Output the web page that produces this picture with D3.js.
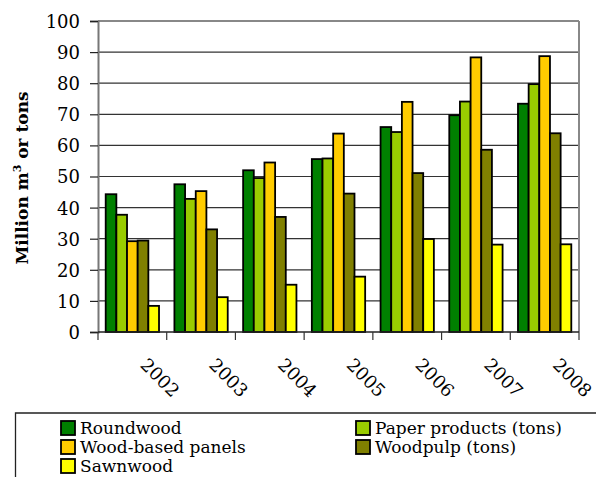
<!DOCTYPE html>
<html><head><meta charset="utf-8">
<script src="https://cdn.jsdelivr.net/npm/d3@7"></script>
<style>body{margin:0;background:#fff}svg{display:block}</style>
</head><body>
<script>
const years = ["2002","2003","2004","2005","2006","2007","2008"];
const seriesNames = ["Roundwood","Paper products (tons)","Wood-based panels","Woodpulp (tons)","Sawnwood"];
const seriesColors = ["#008000","#99CC00","#FFCC00","#808000","#FFFF00"];
const roundwood = [44.3, 47.5, 52.0, 55.6, 65.9, 69.7, 73.4];
const paper     = [37.7, 42.8, 49.5, 55.8, 64.3, 74.1, 79.7];
const panels    = [29.2, 45.3, 54.5, 63.8, 74.0, 88.3, 88.7];
const woodpulp  = [29.4, 33.0, 37.0, 44.5, 51.1, 58.6, 63.9];
const sawnwood  = [8.4, 11.2, 15.2, 17.8, 29.9, 28.1, 28.2];
const yTicks = [0,10,20,30,40,50,60,70,80,90,100];
const values = [roundwood, paper, panels, woodpulp, sawnwood];

const FONT = '"DejaVu Serif", "Liberation Serif", serif';
const W=596,H=477;
const m={left:98,right:579,top:21,bottom:332};
const svg=d3.select("body").append("svg").attr("width",W).attr("height",H).attr("font-family",FONT);

const x=d3.scaleBand().domain(years).range([m.left,m.right]).paddingInner(0).paddingOuter(0);
const x1=d3.scaleBand().domain(d3.range(5)).range([7.7, x.bandwidth()-7.7]);
const y=d3.scaleLinear().domain([0,100]).range([m.bottom,m.top]);

svg.append("g").selectAll("line").data(yTicks.filter(d=>d>0&&d<100)).join("line")
  .attr("x1",m.left).attr("x2",m.right).attr("y1",d=>y(d)).attr("y2",d=>y(d))
  .attr("stroke","#333").attr("stroke-width",1.2);
svg.append("line").attr("x1",m.left).attr("x2",m.right).attr("y1",y(100)).attr("y2",y(100)).attr("stroke","#888").attr("stroke-width",2);
svg.append("line").attr("x1",m.right).attr("x2",m.right).attr("y1",m.top).attr("y2",m.bottom).attr("stroke","#888").attr("stroke-width",2);

const g=svg.append("g");
years.forEach((yr,i)=>{
  g.append("g").attr("transform",`translate(${x(yr)},0)`).selectAll("rect")
   .data(values.map((s,k)=>({k,v:s[i]}))).join("rect")
   .attr("x",d=>x1(d.k)).attr("width",x1.bandwidth())
   .attr("y",d=>y(d.v)).attr("height",d=>y(0)-y(d.v))
   .attr("fill",d=>seriesColors[d.k]).attr("stroke","#000").attr("stroke-width",1.8);
});

const ya=svg.append("g").attr("transform",`translate(${m.left},0)`)
  .call(d3.axisLeft(y).tickValues(yTicks).tickSize(8).tickPadding(10));
ya.attr("font-family",null).attr("font-size",null);
ya.select(".domain").attr("stroke","#777").attr("stroke-width",2);
ya.selectAll(".tick line").attr("stroke","#222").attr("stroke-width",1.2);
ya.selectAll("text").style("font-family",FONT).style("font-size","18px").attr("fill","#000").attr("dy","0.36em");

const xa=svg.append("g").attr("transform",`translate(0,${m.bottom})`);
xa.append("line").attr("x1",m.left).attr("x2",m.right).attr("stroke","#222").attr("stroke-width",1.5);
const xt=[...years.map(d=>x(d)), m.right];
xa.selectAll("line.t").data(xt).join("line").attr("class","t")
  .attr("x1",d=>d).attr("x2",d=>d).attr("y1",0).attr("y2",8).attr("stroke","#333").attr("stroke-width",1.2);
xa.selectAll("text").data(years).join("text")
  .attr("transform",d=>`translate(${x(d)+x.bandwidth()/2+7},${34}) rotate(45)`)
  .attr("text-anchor","start").style("font-family",FONT).style("font-size","18px").text(d=>d);

svg.append("text").attr("transform","translate(28,178) rotate(-90)").attr("text-anchor","middle")
  .style("font-family",FONT).style("font-size","17px").style("font-weight","bold")
  .html('Million m<tspan dy="-7" style="font-size:11px">3</tspan><tspan dy="7"> or tons</tspan>');

svg.append("path").attr("d",`M${W+5},413 H15.5 V${H+5}`).attr("fill","none").attr("stroke","#222").attr("stroke-width",1.3);
const legPos=[[60,428],[355,428],[60,447],[355,447],[60,466]];
const lg=svg.append("g").selectAll("g").data(seriesNames).join("g")
  .attr("transform",(d,i)=>`translate(${legPos[i][0]},${legPos[i][1]})`);
lg.append("rect").attr("x",1).attr("y",-7).attr("width",14).attr("height",14)
  .attr("fill",(d,i)=>seriesColors[i]).attr("stroke","#000").attr("stroke-width",1.8);
lg.append("text").attr("x",20).attr("dy","0.36em").style("font-family",FONT).style("font-size","17px").text(d=>d);
</script>
</body></html>
